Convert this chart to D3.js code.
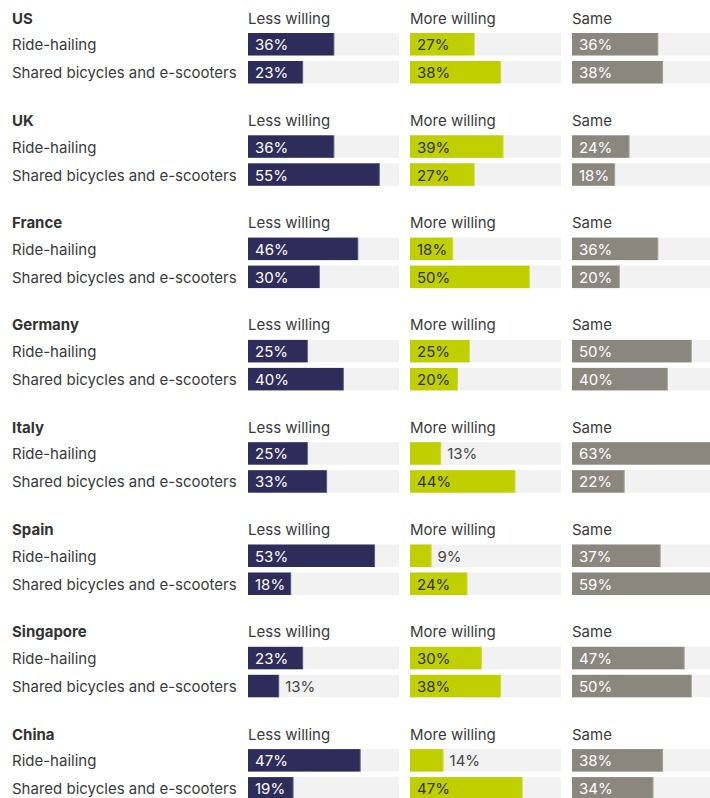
<!DOCTYPE html>
<html>
<head>
<meta charset="utf-8">
<script src="https://cdn.jsdelivr.net/npm/d3@7"></script>
<style>
  html, body { margin: 0; padding: 0; background: #fff; overflow: hidden; }
  svg { display: block; font-family: Inter, "Noto Sans", sans-serif; }
</style>
</head>
<body>
<svg id="chart" width="710" height="798"></svg>
<script>
const countries = ["US", "UK", "France", "Germany", "Italy", "Spain", "Singapore", "China"];
const modes = ["Ride-hailing", "Shared bicycles and e-scooters"];
const panels = ["Less willing", "More willing", "Same"];

const lessRide  = [36, 36, 46, 25, 25, 53, 23, 47];
const lessBike  = [23, 55, 30, 40, 33, 18, 13, 19];
const moreRide  = [27, 39, 18, 25, 13, 9, 30, 14];
const moreBike  = [38, 27, 50, 20, 44, 24, 38, 47];
const sameRide  = [36, 24, 36, 50, 63, 37, 47, 38];
const sameBike  = [38, 18, 20, 40, 22, 59, 50, 34];

const panelColors = ["#2d2c5b", "#bfcf00", "#8a877f"];
const insideText = ["#ffffff", "#333333", "#ffffff"];

const series = [
  [lessRide, lessBike],
  [moreRide, moreBike],
  [sameRide, sameBike]
];

const svg = d3.select("#chart");

const yGroup = d3.scaleBand().domain(countries).range([0, 102.3 * countries.length]).padding(0);
const yRow = d3.scaleBand().domain(modes).range([33, 83.5]).paddingInner(0.196).paddingOuter(0);
const xPanel = d3.scaleBand().domain(panels).range([248, 248 + 162 * 3]).padding(0);
const x = d3.scaleLinear().domain([0, 63]).range([0, 151]);

const textColor = "#3a3a3a";
const fontSize = 15;

const groups = svg.selectAll("g.country")
  .data(countries)
  .join("g")
  .attr("class", "country")
  .attr("transform", d => `translate(0,${yGroup(d)})`);

groups.append("text")
  .attr("x", 12)
  .attr("y", 23.5)
  .attr("font-size", fontSize)
  .attr("font-weight", 700)
  .attr("fill", "#333333")
  .text(d => d);

groups.selectAll("text.mode")
  .data(modes)
  .join("text")
  .attr("class", "mode")
  .attr("x", 12)
  .attr("y", m => yRow(m) + yRow.bandwidth() / 2)
  .attr("dy", "0.4em")
  .attr("font-size", fontSize)
  .attr("fill", textColor)
  .text(m => m);

groups.each(function(country, ci) {
  const g = d3.select(this);
  panels.forEach((p, pi) => {
    const px = xPanel(p);
    g.append("text")
      .attr("x", px)
      .attr("y", 23.5)
      .attr("font-size", fontSize)
      .attr("fill", textColor)
      .text(p);
    modes.forEach((m, mi) => {
      const v = series[pi][mi][ci];
      const y0 = yRow(m);
      const h = yRow.bandwidth();
      g.append("rect")
        .attr("x", px)
        .attr("y", y0)
        .attr("width", x(63))
        .attr("height", h)
        .attr("fill", "#f2f2f2");
      g.append("rect")
        .attr("x", px)
        .attr("y", y0)
        .attr("width", x(v))
        .attr("height", h)
        .attr("fill", panelColors[pi]);
      g.append("rect")
        .attr("x", px + x(v) - 1)
        .attr("y", y0)
        .attr("width", 1)
        .attr("height", h)
        .attr("fill", "#ffffff")
        .attr("opacity", 0.25);
      const inside = v >= 15;
      g.append("text")
        .attr("x", inside ? px + 7 : px + x(v) + 6)
        .attr("y", y0 + h / 2)
        .attr("dy", "0.4em")
        .attr("font-size", fontSize)
        .attr("fill", inside ? insideText[pi] : "#444444")
        .text(v + "%");
    });
  });
});
</script>
</body>
</html>
